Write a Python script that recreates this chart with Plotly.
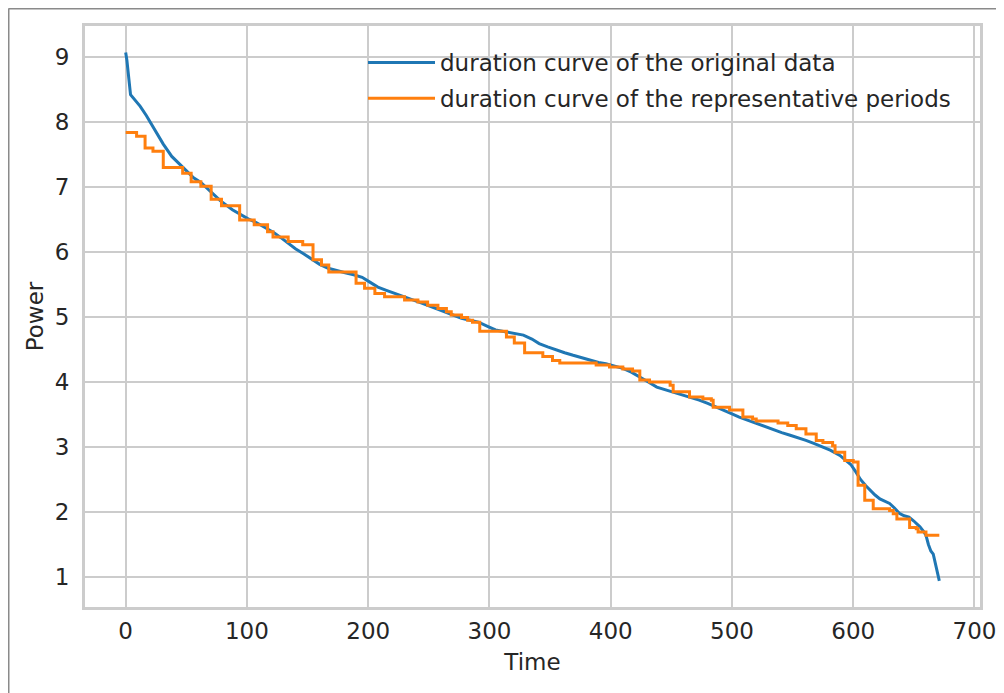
import plotly.graph_objects as go

# ---- data ----
orig_time = [0, 1, 4, 8, 12, 17, 24, 31, 38, 44, 50, 56, 62, 70, 78, 88, 95, 101, 108, 115,
             122, 128, 134, 140, 147, 153, 160, 167, 174, 181, 188, 195, 201, 208, 215, 222,
             229, 236, 243, 249, 256, 263, 270, 277, 284, 291, 298, 305, 314, 321, 328, 335,
             341, 348, 355, 362, 369, 376, 383, 390, 396, 403, 410, 417, 424, 431, 438, 445,
             451, 458, 465, 473, 480, 487, 493, 500, 506, 513, 520, 527, 534, 541, 548, 555,
             561, 568, 575, 581, 589, 594, 598, 602, 606, 610, 614, 618, 622, 626, 630, 634,
             638, 642, 646, 650, 655, 658, 660, 662, 664, 666, 668, 670, 671]
orig_power = [9.07, 8.95, 8.42, 8.33, 8.24, 8.10, 7.87, 7.66, 7.47, 7.36, 7.24, 7.14, 7.07, 6.93,
              6.79, 6.65, 6.57, 6.51, 6.45, 6.38, 6.30, 6.22, 6.13, 6.05, 5.97, 5.90, 5.81, 5.75,
              5.71, 5.68, 5.65, 5.61, 5.54, 5.46, 5.41, 5.36, 5.31, 5.26, 5.22, 5.18, 5.13, 5.08,
              5.03, 4.98, 4.95, 4.92, 4.86, 4.80, 4.77, 4.75, 4.72, 4.66, 4.59, 4.54, 4.49, 4.45,
              4.41, 4.37, 4.33, 4.30, 4.28, 4.25, 4.21, 4.15, 4.08, 4.00, 3.92, 3.88, 3.85, 3.81,
              3.77, 3.72, 3.67, 3.61, 3.56, 3.51, 3.46, 3.41, 3.36, 3.31, 3.26, 3.22, 3.18, 3.14,
              3.10, 3.05, 3.00, 2.95, 2.87, 2.80, 2.73, 2.62, 2.50, 2.41, 2.33, 2.26, 2.20, 2.16,
              2.13, 2.06, 1.98, 1.94, 1.92, 1.86, 1.77, 1.70, 1.64, 1.50, 1.40, 1.35, 1.20, 1.05,
              0.94]

repr_time = [0, 9, 16, 22.5, 31, 47, 54, 62, 70.5, 79, 94, 106, 117, 121.5, 134, 146, 154.5,
             161.5, 167.5, 190, 197, 205.5, 213.5, 230, 241, 249, 257.5, 264.5, 268.5, 277, 282,
             286, 292, 314, 320.5, 329, 344, 352, 358, 388, 399, 410, 418, 424, 432, 449, 451.5,
             465, 476, 483, 484.5, 498, 509, 517, 520, 538, 546, 553, 561, 569.5, 575, 583, 585,
             593, 600, 604, 609.5, 616.5, 630, 633, 636, 646.5, 652, 653.5, 660, 671]
repr_power = [7.84, 7.78, 7.60, 7.55, 7.30, 7.21, 7.08, 7.01, 6.81, 6.71, 6.49, 6.42, 6.31, 6.23,
              6.16, 6.11, 5.88, 5.80, 5.69, 5.52, 5.44, 5.36, 5.31, 5.26, 5.23, 5.18, 5.13, 5.08,
              5.03, 4.99, 4.95, 4.92, 4.78, 4.69, 4.60, 4.45, 4.39, 4.33, 4.29, 4.26, 4.23, 4.20,
              4.17, 4.03, 4.00, 3.95, 3.85, 3.77, 3.74, 3.72, 3.61, 3.57, 3.46, 3.43, 3.40, 3.37,
              3.33, 3.28, 3.20, 3.10, 3.07, 3.02, 2.92, 2.79, 2.77, 2.41, 2.18, 2.05, 2.02, 1.97,
              1.89, 1.76, 1.74, 1.69, 1.64, 1.64]

x_ticks = [0, 100, 200, 300, 400, 500, 600, 700]
y_ticks = [1, 2, 3, 4, 5, 6, 7, 8, 9]

series_names = ["duration curve of the original data",
                "duration curve of the representative periods"]

FONT = "DejaVu Sans"
TXT = "#262626"
GRID = "#cccccc"

fig = go.Figure()
fig.add_trace(go.Scatter(x=orig_time, y=orig_power, mode="lines", name=series_names[0],
                         line=dict(color="#1f77b4", width=3), legendgroup="a"))
fig.add_trace(go.Scatter(x=repr_time, y=repr_power, mode="lines", name=series_names[1],
                         line=dict(color="#ff7f0e", width=3, shape="hv"), legendgroup="b"))

# page body has an 8px margin: figure pixel = screen pixel - 8
OFF = 8
W, H = 1004, 693
L, T = 85 - OFF, 26 - OFF
R = W - (980 - OFF)
B = H - (607 - OFF)
pw, ph = W - L - R, H - T - B

def px_x(p):
    return (p - OFF - L) / pw

def px_y(p):
    return (H - B - (p - OFF)) / ph

fig.update_layout(
    width=W, height=H,
    margin=dict(l=L, r=R, t=T, b=B),
    paper_bgcolor="white", plot_bgcolor="white",
    font=dict(family=FONT, size=23, color=TXT),
    showlegend=True,
    legend=dict(x=px_x(363), y=px_y(41), xanchor="left", yanchor="top",
                bgcolor="rgba(0,0,0,0)", borderwidth=0, tracegroupgap=3,
                itemwidth=67, font=dict(family=FONT, size=23, color=TXT)),
    xaxis=dict(range=[-33.55, 704.55], tickvals=x_ticks, showgrid=True, gridcolor=GRID,
               gridwidth=2, zeroline=False, showline=True, linecolor=GRID, linewidth=3,
               mirror=True, ticks="", ticklabelstandoff=1,
               title=dict(text="Time", standoff=12, font=dict(family=FONT, size=23, color=TXT))),
    yaxis=dict(range=[0.537, 9.477], tickvals=y_ticks, showgrid=True, gridcolor=GRID,
               gridwidth=2, zeroline=False, showline=True, linecolor=GRID, linewidth=3,
               mirror=True, ticks="", ticklabelstandoff=8,
               title=dict(text="Power", standoff=5, font=dict(family=FONT, size=23, color=TXT))),
    shapes=[
        dict(type="line", xref="paper", yref="paper", x0=px_x(8.5), x1=px_x(8.5),
             y0=px_y(8.5), y1=px_y(H + 20), line=dict(color="#8a8a8a", width=2)),
        dict(type="line", xref="paper", yref="paper", x0=px_x(8.5), x1=px_x(W + 20),
             y0=px_y(8.5), y1=px_y(8.5), line=dict(color="#8a8a8a", width=2)),
    ],
)

fig.write_html("out.html")
